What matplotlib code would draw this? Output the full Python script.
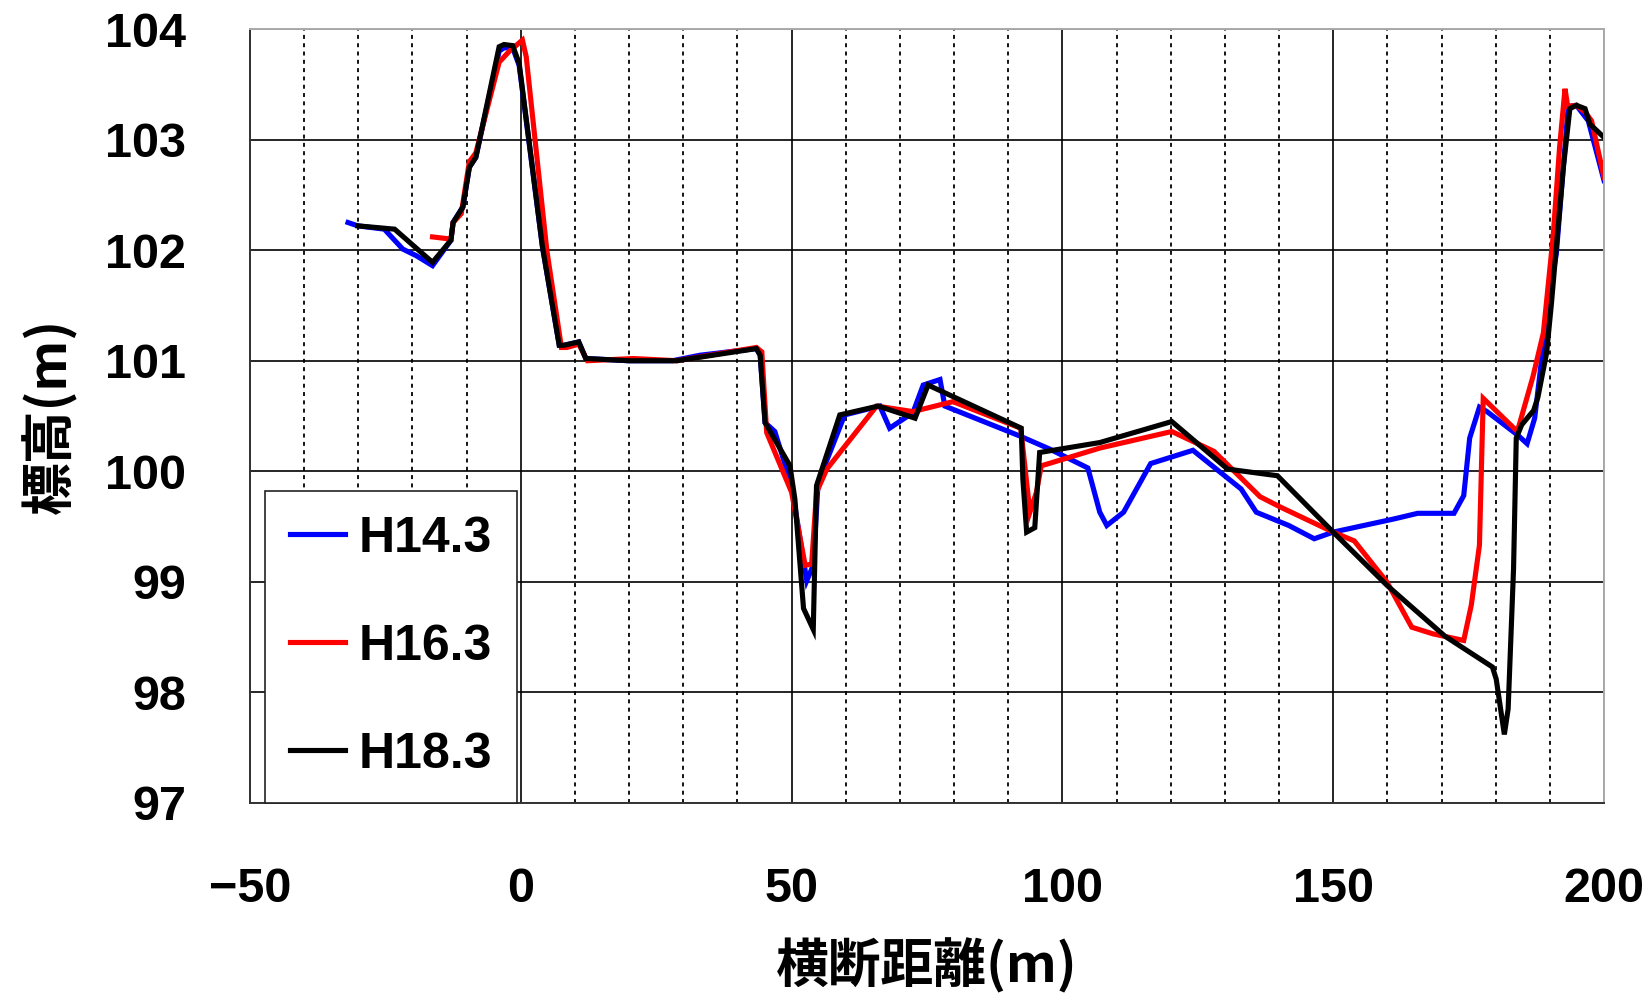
import matplotlib
matplotlib.use("Agg")
import matplotlib.pyplot as plt
from matplotlib.ticker import MultipleLocator

# cross-section survey, three survey years
h14_x = [-31.9, -30.1, -25.2, -21.8, -19.3, -16.3, -12.9, -12.5, -10.7, -9.5, -8.3,
         -4.0, -3.1, -1.5, -0.3, 4.0, 7.1, 8.0, 10.7, 12.0, 20.0, 28.0, 33.1, 43.5,
         44.2, 45.1, 46.9, 50.0, 52.8, 54.0, 54.9, 59.8, 66.3, 68.1, 72.4, 74.3,
         77.4, 78.3, 92.1, 97.7, 104.7, 106.9, 108.2, 111.3, 116.3, 124.1, 133.0,
         135.8, 141.8, 146.5, 150.0, 161.3, 165.6, 172.3, 174.1, 175.2, 177.0,
         178.4, 184.0, 185.8, 187.2, 189.7, 191.2, 193.4, 194.9, 197.1, 200.0]
h14_y = [102.25, 102.22, 102.19, 102.01, 101.95, 101.86, 102.09, 102.25, 102.39,
         102.75, 102.84, 103.80, 103.83, 103.83, 103.67, 102.03, 101.14, 101.14,
         101.17, 101.02, 101.00, 101.00, 101.05, 101.11, 101.05, 100.44, 100.36,
         99.87, 99.01, 99.15, 99.90, 100.51, 100.59, 100.39, 100.53, 100.78,
         100.83, 100.59, 100.32, 100.20, 100.03, 99.63, 99.51, 99.63, 100.07,
         100.19, 99.84, 99.63, 99.51, 99.39, 99.45, 99.57, 99.62, 99.62, 99.78,
         100.30, 100.58, 100.54, 100.33, 100.25, 100.48, 101.52, 101.97, 103.30,
         103.31, 103.17, 102.63]

h16_x = [-16.3, -12.9, -12.5, -11.0, -9.5, -8.3, -4.0, -2.1, 0.3, 1.0, 4.8, 7.5,
         8.5, 10.7, 12.3, 20.8, 28.8, 43.5, 44.5, 45.4, 50.0, 52.5, 53.7, 54.6,
         56.5, 65.7, 72.4, 79.8, 92.3, 94.0, 95.2, 96.1, 97.5, 106.9, 120.2,
         128.0, 136.5, 140.1, 150.0, 153.9, 159.9, 164.5, 168.4, 174.1, 175.5,
         177.0, 177.7, 184.0, 186.9, 188.8, 190.6, 191.8, 192.8, 193.3, 194.9,
         196.5, 197.7, 200.0]
h16_y = [102.12, 102.10, 102.25, 102.33, 102.80, 102.88, 103.70, 103.80, 103.90,
         103.75, 102.00, 101.12, 101.12, 101.15, 101.00, 101.02, 101.00, 101.12,
         101.08, 100.35, 99.81, 99.15, 99.16, 99.81, 100.02, 100.59, 100.54,
         100.63, 100.39, 99.63, 99.81, 100.05, 100.07, 100.21, 100.36, 100.18,
         99.77, 99.68, 99.45, 99.37, 99.00, 98.59, 98.53, 98.47, 98.79, 99.33,
         100.66, 100.36, 100.86, 101.25, 102.12, 102.93, 103.46, 103.30, 103.31,
         103.25, 103.17, 102.66]

h18_x = [-30.1, -23.3, -16.3, -12.9, -12.5, -10.7, -9.5, -8.3, -4.0, -3.1, -1.5,
         -0.3, 4.0, 7.1, 8.0, 10.7, 12.0, 20.0, 28.8, 43.5, 44.2, 45.1, 49.7,
         50.6, 52.2, 54.0, 54.6, 58.9, 66.0, 72.8, 75.2, 92.4, 92.7, 93.4, 94.9,
         95.8, 100.7, 106.9, 120.2, 130.5, 139.7, 150.0, 159.9, 170.6, 179.4,
         180.1, 181.6, 182.3, 183.3, 183.8, 184.8, 187.0, 187.8, 189.4, 190.3,
         191.2, 192.5, 193.7, 194.9, 196.5, 197.4, 200.0]
h18_y = [102.22, 102.19, 101.89, 102.09, 102.25, 102.39, 102.75, 102.84, 103.84,
         103.86, 103.85, 103.69, 102.03, 101.14, 101.14, 101.17, 101.02, 101.00,
         101.00, 101.11, 101.05, 100.44, 100.05, 99.75, 98.76, 98.57, 99.87,
         100.51, 100.59, 100.48, 100.78, 100.39, 99.93, 99.45, 99.49, 100.17,
         100.21, 100.26, 100.45, 100.02, 99.96, 99.45, 98.97, 98.51, 98.23,
         98.12, 97.62, 97.85, 99.12, 100.30, 100.42, 100.55, 100.67, 101.07,
         101.52, 102.03, 102.75, 103.28, 103.31, 103.28, 103.14, 103.02]

labels = ["H14.3", "H16.3", "H18.3"]
colors = ["#0000ff", "#ff0000", "#000000"]

num_font = "Liberation Sans"
jp_font = ["Noto Sans CJK JP", "DejaVu Sans"]

fig = plt.figure(figsize=(16.48, 9.98), dpi=100)
ax = fig.add_axes([0.1517, 0.1954, 0.8216, 0.7755])

for xs, ys, lab, c in zip([h14_x, h16_x, h18_x], [h14_y, h16_y, h18_y], labels, colors):
    ax.plot(xs, ys, color=c, lw=3.7, label=lab, solid_joinstyle="miter")

ax.set_xlim(-50, 200)
ax.set_ylim(97, 104)
ax.xaxis.set_major_locator(MultipleLocator(50))
ax.xaxis.set_minor_locator(MultipleLocator(10))
ax.yaxis.set_major_locator(MultipleLocator(1))

ax.set_axisbelow(True)
ax.grid(which="major", color="black", lw=1.2)
ax.grid(which="minor", axis="x", color="black", lw=1.3, ls=(0, (2.2, 2.4)))
ax.tick_params(which="both", length=0)
ax.tick_params(axis="y", pad=46)
ax.tick_params(axis="x", pad=46)

for s in ["left", "bottom"]:
    ax.spines[s].set_color("#333333")
    ax.spines[s].set_linewidth(1.4)
for s in ["top", "right"]:
    ax.spines[s].set_color("#aaaaaa")
    ax.spines[s].set_linewidth(1.4)

for t in ax.get_xticklabels() + ax.get_yticklabels():
    t.set_fontfamily(num_font)
    t.set_fontweight("bold")
    t.set_fontsize(35)

ax.set_xlabel("横断距離(m)", family=jp_font, fontweight="bold", fontsize=38, labelpad=19)
ax.set_ylabel("標高(m)", family=jp_font, fontweight="bold", fontsize=38, labelpad=20)

leg = ax.legend(loc="lower left", bbox_to_anchor=(0.011, 0.0), borderaxespad=0,
                prop={"family": num_font, "weight": "bold", "size": 36},
                handlelength=1.1, handletextpad=0.28, labelspacing=1.24,
                borderpad=0.5, fancybox=False, framealpha=1)
leg.get_frame().set_edgecolor("#222222")
leg.get_frame().set_linewidth(1.2)
for h in leg.get_lines():
    h.set_linewidth(3.7)

fig.savefig("out.png", dpi=100, facecolor="white")
